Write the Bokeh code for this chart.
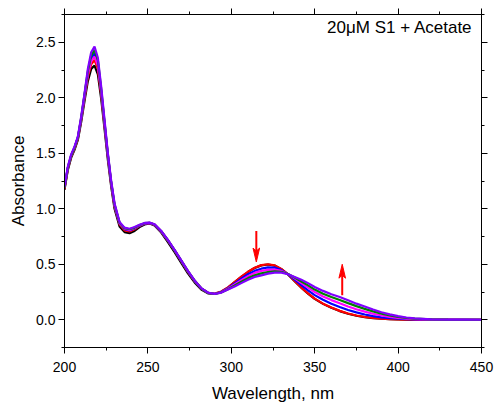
from bokeh.plotting import figure
from bokeh.models import LinearAxis, Range1d, FixedTicker
from bokeh.embed import file_html
from bokeh.resources import INLINE
from bokeh.core.properties import value

# ---------------- data ----------------
wavelength = [200, 202, 204, 206, 208, 210, 212, 214, 216, 218, 220, 222, 224, 226, 228, 230,
              233, 236, 239, 242, 245, 248, 251, 254,
              258, 262, 266, 270, 274, 278, 282, 286, 290, 294, 298, 302, 306, 310, 314, 318,
              322, 326, 330, 334, 338, 342, 346, 350,
              355, 360, 365, 370, 375, 380, 385, 390, 395, 400, 405, 410,
              420, 430, 440, 450]

abs_black = [1.17, 1.35, 1.46, 1.53, 1.62, 1.78, 1.97, 2.15, 2.26, 2.29, 2.21, 1.99, 1.72, 1.44, 1.20, 1.00,
             0.84, 0.79, 0.78, 0.80, 0.835, 0.858, 0.868, 0.85,
             0.785, 0.70, 0.608, 0.512, 0.418, 0.336, 0.273, 0.238, 0.232, 0.252, 0.29, 0.338, 0.386, 0.43, 0.466, 0.49,
             0.498, 0.488, 0.456, 0.408, 0.348, 0.288, 0.236, 0.188,
             0.143, 0.108, 0.078, 0.054, 0.036, 0.023, 0.015, 0.009, 0.005, 0.003, 0.002, 0.001,
             0.0, 0.0, 0.0, 0.0]

abs_red = [1.18, 1.36, 1.47, 1.54, 1.63, 1.80, 2.00, 2.19, 2.30, 2.34, 2.26, 2.03, 1.75, 1.47, 1.22, 1.02,
           0.86, 0.805, 0.795, 0.815, 0.845, 0.865, 0.871, 0.855,
           0.793, 0.712, 0.622, 0.527, 0.432, 0.348, 0.281, 0.243, 0.236, 0.255, 0.292, 0.34, 0.388, 0.432, 0.468, 0.492,
           0.50, 0.49, 0.458, 0.41, 0.35, 0.29, 0.238, 0.19,
           0.145, 0.11, 0.08, 0.056, 0.038, 0.025, 0.016, 0.01, 0.006, 0.004, 0.002, 0.001,
           0.0, 0.0, 0.0, 0.0]

abs_blue = [1.19, 1.37, 1.48, 1.55, 1.64, 1.81, 2.02, 2.22, 2.35, 2.40, 2.31, 2.06, 1.77, 1.48, 1.23, 1.03,
            0.868, 0.815, 0.805, 0.822, 0.848, 0.866, 0.872, 0.856,
            0.795, 0.715, 0.625, 0.53, 0.435, 0.35, 0.282, 0.243, 0.234, 0.25, 0.285, 0.328, 0.37, 0.41, 0.44, 0.46,
            0.472, 0.47, 0.447, 0.41, 0.362, 0.312, 0.265, 0.222,
            0.18, 0.145, 0.115, 0.088, 0.066, 0.047, 0.033, 0.022, 0.014, 0.009, 0.005, 0.003,
            0.001, 0.0, 0.0, 0.0]

abs_magenta = [1.19, 1.37, 1.48, 1.55, 1.64, 1.81, 2.01, 2.21, 2.33, 2.37, 2.29, 2.05, 1.76, 1.48, 1.23, 1.03,
               0.87, 0.82, 0.81, 0.826, 0.85, 0.868, 0.873, 0.857,
               0.796, 0.716, 0.626, 0.531, 0.436, 0.351, 0.282, 0.243, 0.233, 0.248, 0.28, 0.318, 0.356, 0.393, 0.422, 0.44,
               0.45, 0.452, 0.44, 0.413, 0.373, 0.33, 0.29, 0.25,
               0.21, 0.177, 0.148, 0.12, 0.095, 0.073, 0.054, 0.038, 0.026, 0.017, 0.01, 0.006,
               0.002, 0.001, 0.0, 0.0]

abs_green = [1.19, 1.37, 1.48, 1.55, 1.64, 1.82, 2.03, 2.24, 2.38, 2.43, 2.34, 2.08, 1.78, 1.49, 1.24, 1.04,
             0.875, 0.825, 0.815, 0.83, 0.853, 0.87, 0.874, 0.858,
             0.798, 0.718, 0.628, 0.533, 0.438, 0.353, 0.283, 0.243, 0.232, 0.246, 0.275, 0.308, 0.342, 0.375, 0.40, 0.418,
             0.43, 0.435, 0.432, 0.412, 0.38, 0.345, 0.31, 0.272,
             0.235, 0.205, 0.178, 0.15, 0.123, 0.098, 0.075, 0.055, 0.038, 0.025, 0.016, 0.01,
             0.003, 0.001, 0.0, 0.0]

abs_violet = [1.20, 1.38, 1.49, 1.56, 1.65, 1.83, 2.04, 2.26, 2.41, 2.46, 2.36, 2.10, 1.80, 1.50, 1.25, 1.05,
              0.88, 0.83, 0.82, 0.835, 0.855, 0.872, 0.875, 0.86,
              0.80, 0.72, 0.63, 0.535, 0.44, 0.355, 0.285, 0.245, 0.232, 0.245, 0.272, 0.30, 0.33, 0.36, 0.385, 0.40,
              0.415, 0.425, 0.425, 0.41, 0.385, 0.36, 0.33, 0.295,
              0.26, 0.23, 0.205, 0.175, 0.145, 0.12, 0.092, 0.068, 0.048, 0.032, 0.02, 0.012,
              0.004, 0.002, 0.001, 0.0]

series = [abs_black, abs_red, abs_blue, abs_magenta, abs_green, abs_violet]
series_colors = ["#000000", "#ff0000", "#0000ff", "#ff00ff", "#008000", "#8000ff"]

x_ticks = [200, 250, 300, 350, 400, 450]
x_minor = [225, 275, 325, 375, 425]
y_ticks = [0.0, 0.5, 1.0, 1.5, 2.0, 2.5]
y_tick_labels = ["0.0", "0.5", "1.0", "1.5", "2.0", "2.5"]
y_minor = [-0.25, 0.25, 0.75, 1.25, 1.75, 2.25, 2.75]

# arrows (wavelength, tail absorbance, tip absorbance)
arrow_x = [315.0, 366.5]
arrow_tail = [0.80, 0.22]
arrow_tip = [0.52, 0.50]

annotation = "20\u03bcM S1 + Acetate"

# ---------------- layout ----------------
W, H = 495, 405
LEFT, RIGHT, TOP, BOTTOM = 64, 14, 14, 57
X0, X1 = 200, 450
Y0, Y1 = -0.25, 2.75
FONT = "Liberation Sans"

p = figure(width=W, height=H, x_range=Range1d(X0, X1), y_range=Range1d(Y0, Y1),
           output_backend="svg", toolbar_location=None,
           min_border_left=LEFT, min_border_right=RIGHT, min_border_top=TOP, min_border_bottom=BOTTOM,
           x_axis_label="Wavelength, nm", y_axis_label="Absorbance")
p.xgrid.visible = False
p.ygrid.visible = False
p.outline_line_color = "black"
p.outline_line_width = 1
p.background_fill_color = "white"
p.border_fill_color = "white"

xt = FixedTicker(ticks=x_ticks, minor_ticks=x_minor)
yt = FixedTicker(ticks=y_ticks, minor_ticks=y_minor)


def style_axis(ax):
    ax.axis_line_color = "black"
    ax.major_tick_line_color = "black"
    ax.minor_tick_line_color = "black"
    ax.major_tick_in = 0
    ax.major_tick_out = 6
    ax.minor_tick_in = 0
    ax.minor_tick_out = 3
    ax.major_label_text_font = FONT
    ax.major_label_text_font_size = "14px"
    ax.major_label_text_color = "#000000"
    ax.axis_label_text_font = FONT
    ax.axis_label_text_font_size = "17px"
    ax.axis_label_text_font_style = "normal"
    ax.axis_label_text_color = "#000000"


p.xaxis.ticker = xt
p.yaxis.ticker = yt
p.yaxis.major_label_overrides = {t: s for t, s in zip(y_ticks, y_tick_labels)}
for ax in p.xaxis:
    style_axis(ax)
    ax.major_label_standoff = 8
    ax.axis_label_standoff = 9
for ax in p.yaxis:
    style_axis(ax)
    ax.major_label_standoff = 3
    ax.axis_label_standoff = 5

# frame ticks on top and right, without labels
top_ax = LinearAxis(ticker=xt)
style_axis(top_ax)
top_ax.major_label_text_font_size = "0px"
top_ax.major_label_text_color = None
top_ax.major_label_standoff = 0
p.add_layout(top_ax, "above")
right_ax = LinearAxis(ticker=yt)
style_axis(right_ax)
right_ax.major_label_text_font_size = "0px"
right_ax.major_label_text_color = None
right_ax.major_label_standoff = 0
p.add_layout(right_ax, "right")

for ys, c in zip(series, series_colors):
    p.line(wavelength, ys, line_color=c, line_width=2.2)

# arrows
frame_w = W - LEFT - RIGHT
frame_h = H - TOP - BOTTOM
nm_per_px = (X1 - X0) / frame_w
a_per_px = (Y1 - Y0) / frame_h
head_len = 14 * a_per_px
head_half = 3.3 * nm_per_px
notch = 3 * a_per_px

xs_heads, ys_heads, sx0, sy0, sx1, sy1 = [], [], [], [], [], []
for x, t0, t1 in zip(arrow_x, arrow_tail, arrow_tip):
    d = 1 if t1 > t0 else -1
    back = t1 - d * head_len
    xs_heads.append([x, x - head_half, x, x + head_half])
    ys_heads.append([t1, back, back + d * notch, back])
    sx0.append(x); sy0.append(t0); sx1.append(x); sy1.append(back + d * notch)
p.segment(sx0, sy0, sx1, sy1, line_color="#ff0000", line_width=2)
p.patches(xs_heads, ys_heads, fill_color="#ff0000", line_color="#ff0000", line_width=1)

p.text(x=[X1 - 9 * nm_per_px], y=[Y1 - 13 * a_per_px], text=[annotation],
       text_font=value(FONT), text_font_size="17px", text_align="right",
       text_baseline="alphabetic", text_color="#000000")

open("out.html", "w").write(file_html(p, INLINE))
